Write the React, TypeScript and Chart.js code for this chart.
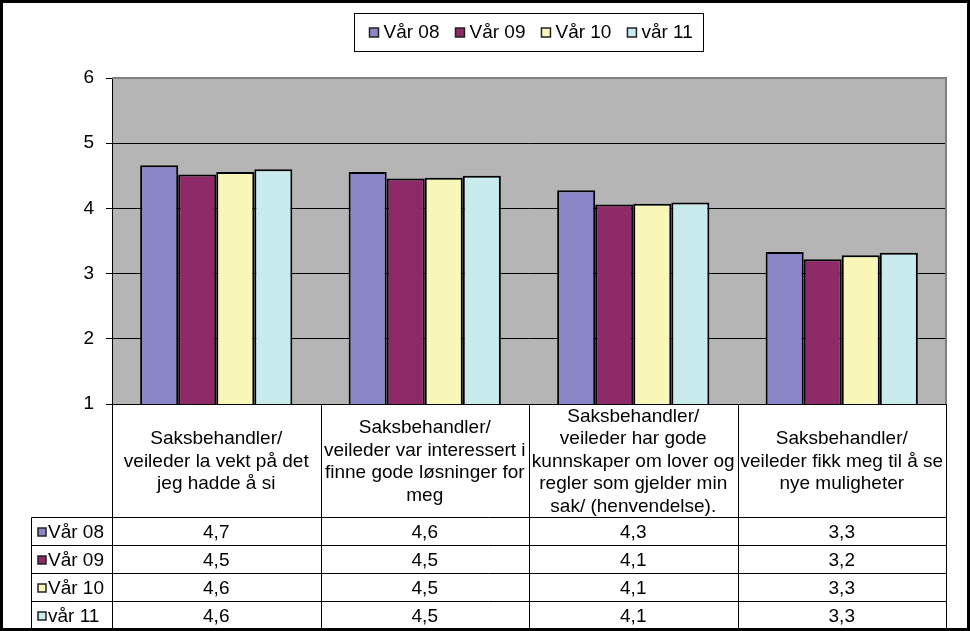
import React, { useEffect, useRef } from "react";
import { Chart, registerables } from "chart.js";

Chart.register(...registerables);

const categories: string[][] = [
  ["Saksbehandler/", "veileder la vekt på det", "jeg hadde å si"],
  ["Saksbehandler/", "veileder var interessert i", "finne gode løsninger for", "meg"],
  ["Saksbehandler/", "veileder har gode", "kunnskaper om lover og", "regler som gjelder min", "sak/ (henvendelse)."],
  ["Saksbehandler/", "veileder fikk meg til å se", "nye muligheter"],
];

const seriesNames = ["Vår 08", "Vår 09", "Vår 10", "vår 11"];
const var08 = [4.66, 4.56, 4.28, 3.33];
const var09 = [4.52, 4.46, 4.06, 3.22];
const var10 = [4.56, 4.47, 4.07, 3.28];
const var11 = [4.6, 4.5, 4.09, 3.32];
const seriesColors = ["#8B86C8", "#8F2A68", "#F9F7B8", "#C8ECEE"];
const yTicks = [1, 2, 3, 4, 5, 6];

const FONT = "'Liberation Sans', Arial, sans-serif";

const fmt = (v: number) => v.toFixed(1).replace(".", ",");

const framePlugin = {
  id: "frame",
  beforeDraw(chart: any) {
    const { ctx, chartArea: a, width, height } = chart;
    ctx.save();
    ctx.fillStyle = "#ffffff";
    ctx.fillRect(0, 0, width, height);
    ctx.fillStyle = "#B5B5B5";
    ctx.fillRect(a.left, a.top, a.right - a.left, a.bottom - a.top);
    ctx.restore();
  },
  afterDraw(chart: any) {
    const { ctx, chartArea: a, width, height } = chart;
    const xs = chart.scales.x;
    const n = categories.length;
    const catW = (a.right - a.left) / n;
    const headerBottom = 517.5;
    const rowH = 28;
    const tableBottom = headerBottom + rowH * 4;
    const tableLeft = 31.5;
    ctx.save();

    // plot area border (grey top & right)
    ctx.strokeStyle = "#808080";
    ctx.lineWidth = 2;
    ctx.beginPath();
    ctx.moveTo(a.left, a.top);
    ctx.lineTo(a.right, a.top);
    ctx.lineTo(a.right, a.bottom);
    ctx.stroke();

    // table grid
    ctx.strokeStyle = "#000";
    ctx.lineWidth = 1;
    ctx.beginPath();
    for (let i = 0; i <= n; i++) {
      const x = Math.round(i < n ? xs.getPixelForValue(i) - catW / 2 : xs.getPixelForValue(n - 1) + catW / 2) + 0.5;
      ctx.moveTo(x, a.bottom);
      ctx.lineTo(x, tableBottom);
    }
    for (let r = 0; r < 4; r++) {
      const y = headerBottom + r * rowH;
      ctx.moveTo(tableLeft, y);
      ctx.lineTo(a.right, y);
    }
    ctx.moveTo(tableLeft, headerBottom);
    ctx.lineTo(tableLeft, tableBottom);
    ctx.stroke();

    // header text
    ctx.fillStyle = "#000";
    ctx.font = `19px ${FONT}`;
    ctx.textAlign = "center";
    ctx.textBaseline = "middle";
    const lh = 22.5;
    const headerMid = (a.bottom + headerBottom) / 2 + 1;
    categories.forEach((lines, i) => {
      const cx = xs.getPixelForValue(i);
      const y0 = headerMid - ((lines.length - 1) * lh) / 2;
      lines.forEach((t, k) => ctx.fillText(t, cx, y0 + k * lh));
    });

    // data rows
    const allSeries = [var08, var09, var10, var11];
    allSeries.forEach((vals, r) => {
      const cy = headerBottom + r * rowH + rowH / 2 + 1;
      vals.forEach((v, i) => {
        ctx.textAlign = "center";
        ctx.fillText(fmt(v), xs.getPixelForValue(i), cy);
      });
      // legend key in left column
      ctx.fillStyle = seriesColors[r];
      ctx.fillRect(38, cy - 4.5, 8, 8);
      ctx.strokeStyle = "#222";
      ctx.lineWidth = 1.5;
      ctx.strokeRect(38, cy - 4.5, 8, 8);
      ctx.fillStyle = "#000";
      ctx.textAlign = "left";
      ctx.fillText(seriesNames[r], 48, cy);
    });

    // top legend
    ctx.font = `19px ${FONT}`;
    ctx.textBaseline = "middle";
    const sq = 9;
    const gapSq = 5;
    const gapItem = 16;
    const widths = seriesNames.map((s) => sq + gapSq + ctx.measureText(s).width);
    const total = widths.reduce((p, c) => p + c, 0) + gapItem * (n - 1);
    const cxL = (a.left + a.right) / 2;
    const boxW = total + 26;
    const boxL = Math.round(cxL - boxW / 2) + 0.5;
    ctx.strokeStyle = "#000";
    ctx.lineWidth = 1;
    ctx.strokeRect(boxL, 13.5, Math.round(boxW), 38);
    let x = boxL + 15;
    const ly = 32.5;
    seriesNames.forEach((s, i) => {
      ctx.fillStyle = seriesColors[i];
      ctx.fillRect(x, ly - 4.5, sq, sq);
      ctx.strokeStyle = "#222";
      ctx.lineWidth = 1.5;
      ctx.strokeRect(x, ly - 4.5, sq, sq);
      ctx.fillStyle = "#000";
      ctx.textAlign = "left";
      ctx.fillText(s, x + sq + gapSq, ly);
      x += widths[i] + gapItem;
    });

    // outer border
    ctx.strokeStyle = "#000";
    ctx.lineWidth = 3;
    ctx.strokeRect(1.5, 1.5, width - 3, height - 3);
    ctx.restore();
  },
};

export default function App() {
  const ref = useRef<HTMLCanvasElement>(null);
  useEffect(() => {
    if (!ref.current) return;
    const allSeries = [var08, var09, var10, var11];
    const chart = new Chart(ref.current, {
      type: "bar",
      data: {
        labels: categories.map((c) => c.join(" ")),
        datasets: allSeries.map((vals, i) => ({
          label: seriesNames[i],
          data: vals,
          backgroundColor: seriesColors[i],
          borderColor: "#000",
          borderWidth: 2,
          barPercentage: 1,
          categoryPercentage: 0.73,
        })),
      },
      options: {
        animation: false,
        responsive: false,
        maintainAspectRatio: false,
        layout: { padding: { left: 0, top: 78, right: 24, bottom: 227 } },
        plugins: { legend: { display: false }, tooltip: { enabled: false }, title: { display: false } },
        scales: {
          x: { display: false },
          y: {
            min: yTicks[0],
            max: yTicks[yTicks.length - 1],
            afterFit: (s: any) => {
              s.width = 112;
            },
            afterBuildTicks: (s: any) => {
              s.ticks = yTicks.map((v) => ({ value: v }));
            },
            ticks: {
              color: "#000",
              padding: 12,
              font: { family: FONT, size: 19 },
            },
            border: { display: true, color: "#000", width: 1 },
            grid: {
              color: (c: any) => (c.tick && c.tick.value === 6 ? "rgba(0,0,0,0)" : "#000"),
              lineWidth: 1,
              tickLength: 6,
              tickColor: "#000",
              drawTicks: true,
            },
          },
        },
      },
      plugins: [framePlugin],
    });
    return () => chart.destroy();
  }, []);
  return (
    <div style={{ position: "fixed", left: 0, top: 0, width: 970, height: 631 }}>
      <canvas ref={ref} width={970} height={631} style={{ display: "block" }} />
    </div>
  );
}
